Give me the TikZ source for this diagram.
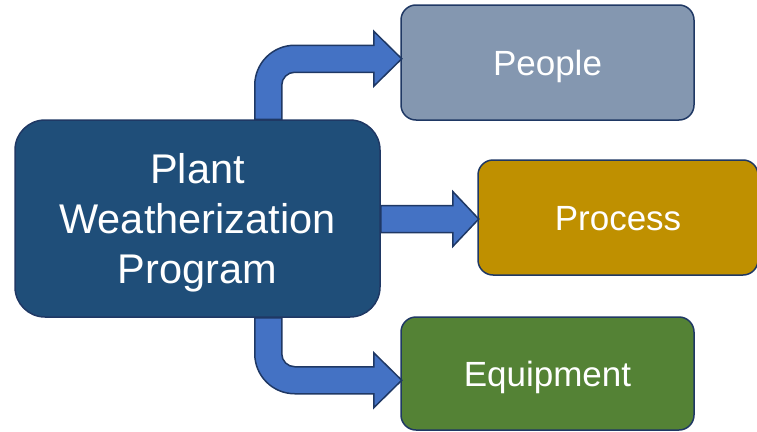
\documentclass[tikz,border=0pt]{standalone}
\usepackage{fontspec}
\setmainfont{Liberation Sans}
\usetikzlibrary{calc}
\definecolor{boxline}{HTML}{1F3864}
\definecolor{mainblue}{HTML}{1F4E79}
\definecolor{arrowblue}{HTML}{4472C4}
\definecolor{peoplegray}{HTML}{8497B0}
\definecolor{processgold}{HTML}{BF9000}
\definecolor{equipgreen}{HTML}{548235}

\begin{document}
\begin{tikzpicture}[x=1pt,y=1pt,
  box/.style={draw=boxline,line width=1.5pt,rounded corners=15pt,text=white,
    minimum width=293pt,minimum height=115pt,text height=25pt,text depth=0pt,
    font=\fontsize{35}{42}\selectfont},
  barrow/.style={draw=boxline,line width=1.5pt,fill=arrowblue,line join=miter}]
  \useasboundingbox (0,0) rectangle (757,-431);
  \node[box,fill=mainblue,rounded corners=30pt,minimum width=365pt,minimum height=197pt,
    align=center,text height=129pt,text depth=0pt,font=\fontsize{41.5}{50}\selectfont]
    (prog) at (197.5,-218.5) {Plant\\Weatherization\\Program};
  \node[box,fill=peoplegray] (people) at (547.5,-62.5) {People};
  \node[box,fill=processgold,minimum width=280pt] (process) at (618,-217.5) {Process};
  \node[box,fill=equipgreen,minimum height=113pt] (equip) at (547.5,-373.5) {Equipment};
  % block arrows
  \draw[barrow] ($(prog.north east)+(-126,0)$) -- ++(0,34)
    arc[start angle=180,end angle=90,radius=40] -- ++(79,0) -- ++(0,14)
    -- ++(28,-27.5) -- ++(-28,-27.5) -- ++(0,14) -- ++(-79,0)
    arc[start angle=90,end angle=180,radius=13] -- ++(0,-34) -- cycle;
  \draw[barrow] ($(prog.east)+(0,13)$) -- ++(72,0) -- ++(0,14)
    -- ++(26,-27.5) -- ++(-26,-27.5) -- ++(0,14) -- ++(-72,0) -- cycle;
  \draw[barrow] ($(prog.south east)+(-126,0)$) -- ++(0,-36)
    arc[start angle=180,end angle=270,radius=40] -- ++(79,0) -- ++(0,-14)
    -- ++(28,27.5) -- ++(-28,27.5) -- ++(0,-14) -- ++(-79,0)
    arc[start angle=270,end angle=180,radius=13] -- ++(0,36) -- cycle;
\end{tikzpicture}
\end{document}
